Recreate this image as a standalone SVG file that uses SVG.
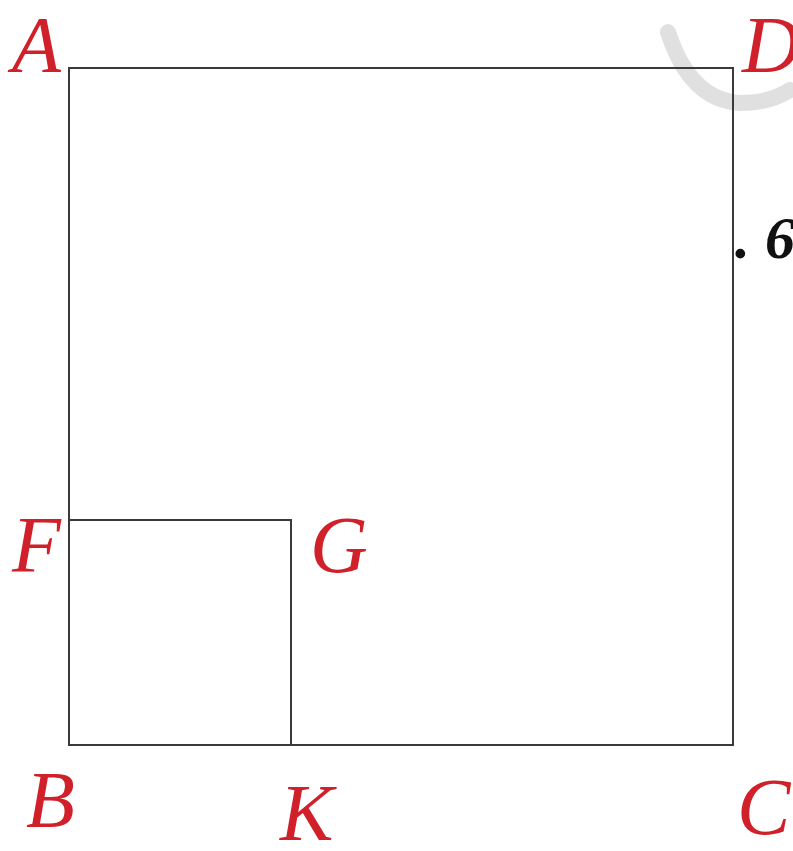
<svg xmlns="http://www.w3.org/2000/svg" width="793" height="851" viewBox="0 0 793 851">
<style>
.edge{fill:none;stroke:#3a3a3a;stroke-width:2}
.lbl{font-family:"Liberation Serif",serif;font-style:italic;font-size:80px;fill:#d0202a}
</style>
<rect width="793" height="851" fill="#fff"/>
<path d="M668,32 Q690,100 740,103 Q770,103 790,90" fill="none" stroke="#d8d8d8" stroke-width="16" stroke-linecap="round" opacity="0.8"/>
<g id="connectors">
<rect class="edge" x="69" y="68" width="664" height="677"/>
<path class="edge" d="M69,520 H291 V745"/>
<path class="edge" d="M69,745 H291" stroke-width="3"/>
</g>
<g id="A"><text class="lbl" x="12" y="72">A</text></g>
<g id="D"><text class="lbl" x="742" y="72">D</text></g>
<g id="F"><text class="lbl" x="12" y="572">F</text></g>
<g id="G"><text class="lbl" x="310" y="572">G</text></g>
<g id="B"><text class="lbl" x="26" y="827">B</text></g>
<g id="K"><text class="lbl" x="280" y="840">K</text></g>
<g id="C"><text class="lbl" x="737" y="834">C</text></g>
<text x="735" y="258" font-family="Liberation Serif,serif" font-style="italic" font-weight="bold" font-size="60" fill="#111">. 6</text>
</svg>
